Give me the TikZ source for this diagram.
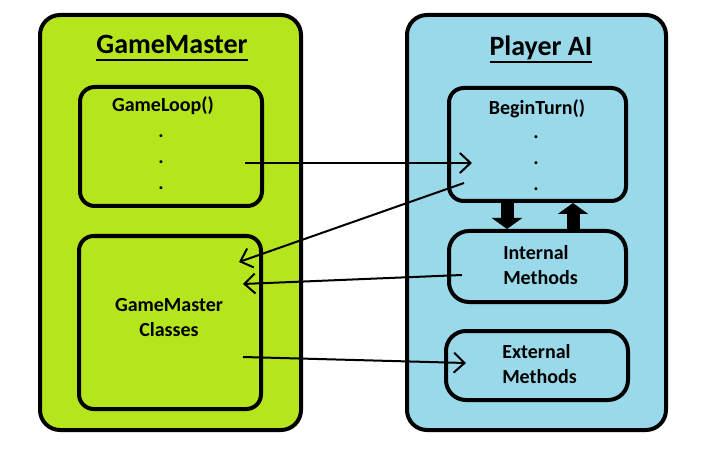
\documentclass[tikz,border=0pt]{standalone}
\usepackage{fontspec}
\setmainfont{Carlito}
\usetikzlibrary{arrows.meta}
\definecolor{gmgreen}{HTML}{B5E61D}
\definecolor{aiblue}{HTML}{99D9EA}
\newcommand\myul[1]{\leavevmode\setbox0=\hbox{#1}\rlap{\rule[-5.25pt]{\wd0}{1.5pt}}\box0}
\begin{document}
\begin{tikzpicture}[x=0.75pt,y=-0.75pt,
  outerbox/.style={draw=black, line width=3pt, rounded corners=15pt, inner sep=0pt},
  innerbox/.style={draw=black, line width=3pt, rounded corners=11pt, inner sep=0pt},
  titletext/.style={font=\bfseries\fontsize{21}{25}\selectfont, inner sep=0pt, anchor=base},
  lbl/.style={font=\bfseries\fontsize{15}{18.5}\selectfont, inner sep=0pt},
  dotlbl/.style={font=\bfseries\fontsize{15}{18.5}\selectfont, inner sep=0pt, anchor=center},
  conn/.style={line width=1.5pt, -{Straight Barb[length=8pt,width=15pt]}},
  blockarrow/.style={line width=9.75pt, -{Triangle[length=8.25pt,width=22.5pt]}}
]
\useasboundingbox (0,0) rectangle (708,460);
\fill[white] (0,0) rectangle (708,460);
% outer boxes
\node[outerbox, fill=gmgreen, minimum width=261*0.75pt, minimum height=415*0.75pt] (gm) at (170.5,222.5) {};
\node[outerbox, fill=aiblue, minimum width=259*0.75pt, minimum height=415*0.75pt] (ai) at (536.5,222.5) {};
% titles
\node[titletext] (gmtitle) at (172,54) {\myul{GameMaster}};
\node[titletext] (aititle) at (541,56) {\myul{Player AI}};
% inner boxes
\node[innerbox, minimum width=182*0.75pt, minimum height=119*0.75pt] (gl) at (171,146.5) {};
\node[innerbox, minimum width=182*0.75pt, minimum height=173*0.75pt] (gc) at (170,322.5) {};
\node[innerbox, minimum width=177*0.75pt, minimum height=113*0.75pt] (bt) at (537.5,144.5) {};
\node[innerbox, rounded corners=15pt, minimum width=177*0.75pt, minimum height=71*0.75pt] (im) at (537.5,266.5) {};
\node[innerbox, rounded corners=15pt, minimum width=182*0.75pt, minimum height=69*0.75pt] (em) at (537,365.5) {};
% labels
\node[lbl, anchor=base] (gltext) at (163,112) {GameLoop()};
\node[dotlbl] (gld1) at (161,136) {.};
\node[dotlbl] (gld2) at (161,162) {.};
\node[dotlbl] (gld3) at (161,188) {.};
\node[lbl, anchor=base] (bttext) at (537,115) {BeginTurn()};
\node[dotlbl] (btd1) at (536,137) {.};
\node[dotlbl] (btd2) at (536,163) {.};
\node[dotlbl] (btd3) at (536,189) {.};
\node[lbl, align=center] (gctext) at (169,317.5) {GameMaster\\Classes};
\node[lbl, align=left, anchor=west] (imtext) at (503,265) {Internal\\Methods};
\node[lbl, align=left, anchor=west] (emtext) at (502,364) {External\\Methods};
% connector end points
\coordinate (a1s) at (245,163);
\coordinate (a1e) at (472,163);
\coordinate (a2s) at (464,183);
\coordinate (a2e) at (239,262);
\coordinate (a3s) at (462,275);
\coordinate (a3e) at (243,284);
\coordinate (a4s) at (243,357);
\coordinate (a4e) at (466,363);
\draw[conn] (a1s) -- (a1e);
\draw[conn] (a2s) -- (a2e);
\draw[conn] (a3s) -- (a3e);
\draw[conn] (a4s) -- (a4e);
% block arrows
\coordinate (dx) at (507,0);
\coordinate (ux) at (573,0);
\draw[blockarrow] (bt.south -| dx) -- (im.north -| dx);
\draw[blockarrow] (im.north -| ux) -- (bt.south -| ux);
\end{tikzpicture}
\end{document}
